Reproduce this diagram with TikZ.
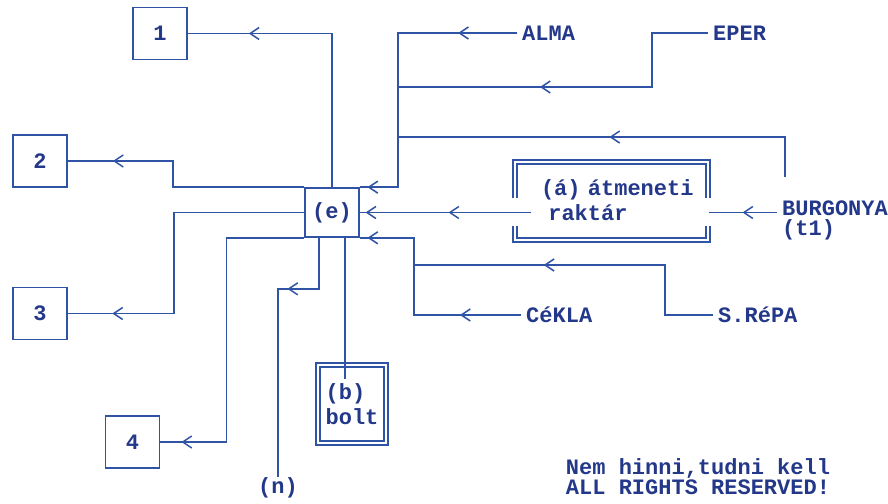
\documentclass[tikz,border=0pt]{standalone}
\usepackage{fontspec}
\setmainfont{Liberation Mono}
\usetikzlibrary{positioning,calc}
\definecolor{ink}{RGB}{48,84,165}
\definecolor{inktext}{RGB}{36,56,138}
\tikzset{
  wire/.style={draw=ink,line width=1.7pt},
  lbl/.style={font=\bfseries\fontsize{22}{20}\selectfont,text=inktext,inner sep=5pt,align=left},
  numbox/.style={rectangle,draw=ink,line width=1.7pt,minimum width=54pt,minimum height=52pt,inner sep=0pt,font=\bfseries\fontsize{22}{20}\selectfont,text=inktext},
  dblbox/.style={rectangle,draw=ink,double=white,double distance=2.5pt,line width=1.3pt,minimum width=68pt,minimum height=78pt,inner sep=0pt,align=left,font=\bfseries\fontsize{22}{25}\selectfont,text=inktext},
  frame/.style={draw=ink,double=white,double distance=2.5pt,line width=1.3pt},
  chev/.pic={\draw[wire,line width=1.5pt] (5,-6) -- (-4,0) -- (5,6);}
}
\begin{document}
\begin{tikzpicture}[x=1pt,y=-1pt]
  \useasboundingbox[fill=white] (0,0) rectangle (888,503);
  % boxes on the left
  \node[numbox] (b1) at (160,33.5) {1};
  \node[numbox] (b2) at (40,161) {2};
  \node[numbox] (b3) at (40,313.5) {3};
  \node[numbox] (b4) at (132.5,442) {4};
  \node[numbox,minimum height=49pt] (e) at (332,212.5) {(e)};
  \node[dblbox] (bolt) at (352,404) {(b)\\bolt};
  \node[lbl,inner sep=1pt] (n) at (278,488) {(n)};
  % goods on the right
  \node[lbl,anchor=west] (alma) at (517,33) {ALMA};
  \node[lbl,anchor=west] (eper) at (708,33) {EPER};
  \node[lbl,anchor=west] (burg) at (777,220.5) {BURGONYA\\(t1)};
  \node[lbl,font=\bfseries\fontsize{22}{25}\selectfont,text width=158pt,inner xsep=10pt] (raktar) at (620,200.5) {(á) átmeneti\\\ raktár};
  \node[lbl,anchor=west] (cekla) at (521,315) {CéKLA};
  \node[lbl,anchor=west] (srepa) at (713,315) {S.RéPA};
  \node[lbl] (note) at (698,477) {Nem hinni,tudni kell\\ALL RIGHTS RESERVED!};
  \coordinate (jE) at (398,87);
  \coordinate (jB) at (398,137);
  \coordinate (jS) at (413,265);
  \coordinate (tB) at (785,177);
  % frame of the store
  \draw[frame] (515,198) -- (515,162) -- (708,162) -- (708,198);
  \draw[frame] (515,226) -- (515,240) -- (708,240) -- (708,226);
  % out of (e)
  \draw[wire] (e.north) |- (b1.east) pic[pos=.77]{chev};
  \draw[wire] (b2.east) -- ++(105,0) pic[pos=.48]{chev} |- (e.north west);
  \draw[wire] (b3.east) -- ++(106,0) pic[pos=.47]{chev} |- (e.west);
  \draw[wire] (b4.east) -- ++(66,0) pic[pos=.4]{chev} |- (e.south west);
  \draw[wire] ([xshift=-13pt]e.south) -- ++(0,51) -| (n.north) pic[pos=.32]{chev};
  \draw[wire] ([xshift=13pt]e.south) -- ++(0,141);
  % into (e)
  \draw[wire] (alma.west) -- (alma.west -| jE) pic[pos=.45]{chev} |- (e.north east) pic[pos=.83]{chev};
  \draw[wire] (eper.west) -- ++(-56,0) |- (jE) pic[pos=.71]{chev};
  \draw[wire] (tB) |- (jB) pic[pos=.72]{chev};
  \draw[wire] (raktar.west |- e.east) -- (e.east) pic[pos=.45]{chev} pic[pos=.935]{chev};
  \draw[wire] (burg.west |- e.east) -- (raktar.east |- e.east) pic[pos=.43]{chev};
  \draw[wire] (e.south east) -- ++(54,0) pic[pos=.24]{chev} |- (cekla.west) pic[pos=.74]{chev};
  \draw[wire] (srepa.west) -- ++(-48,0) |- (jS) pic[pos=.73]{chev};
\end{tikzpicture}
\end{document}
